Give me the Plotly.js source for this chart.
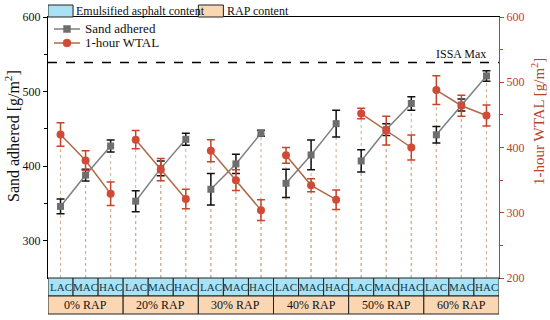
<!DOCTYPE html>
<html>
<head>
<meta charset="utf-8">
<script src="https://cdn.plot.ly/plotly-3.0.1.min.js"></script>
<style>html,body{margin:0;padding:0;background:#fff}#chart{width:550px;height:320px}</style>
</head>
<body>
<div id="chart"></div>
<script>
const contents = ['LAC','MAC','HAC'];
const groups = ['0% RAP','20% RAP','30% RAP','40% RAP','50% RAP','60% RAP'];
const sand    = [346,388,427, 353,397,436, 369,403,444, 377,415,457, 407,449,484, 442,482,521];
const sandErr = [10,8,8, 14,10,8, 21,13,4, 19,20,18, 15,8,9, 11,8,7];
const wtal    = [420,380,329, 412,366,321, 395,350,304, 388,342,320, 452,426,400, 488,464,449];
const wtalErr = [18,15,18, 14,17,15, 17,16,16, 12,10,15, 8,22,19, 22,16,16];
const issaMax = 539;
const seriesNames = ['Sand adhered', '1-hour WTAL'];

const FONT = 'Liberation Serif, Times New Roman, serif';
const RED = '#b5442c';
const GREY_LINE = '#7f7f7f', GREY_MK = '#6e6e6e';
const RED_LINE = '#b06a45', RED_MK = '#d04a38';

function withGaps(arr){
  const out=[];
  arr.forEach((v,i)=>{ if(i>0 && i%3===0) out.push(null); out.push(v); });
  return out;
}
const idx = sand.map((_,i)=>i);
const xs = withGaps(idx);

const traces = [
  {
    x: xs, y: withGaps(sand), name: seriesNames[0], type: 'scatter', mode: 'lines+markers',
    line: {color: GREY_LINE, width: 1.5},
    marker: {symbol: 'square', size: 7, color: GREY_MK},
    error_y: {type: 'data', array: withGaps(sandErr), visible: true, color: '#111', thickness: 1.5, width: 4},
    yaxis: 'y', connectgaps: false, showlegend: false
  },
  {
    x: xs, y: withGaps(wtal), name: seriesNames[1], type: 'scatter', mode: 'lines+markers',
    line: {color: RED_LINE, width: 1.5},
    marker: {symbol: 'circle', size: 8, color: RED_MK},
    error_y: {type: 'data', array: withGaps(wtalErr), visible: true, color: '#c2462a', thickness: 1.5, width: 4},
    yaxis: 'y2', connectgaps: false, showlegend: false
  }
];

const shapes = [];
const annotations = [];
idx.forEach(i=>{
  shapes.push({type:'line', xref:'x', yref:'y', x0:i, x1:i, y0:250, y1:sand[i], line:{color:'#d2ad93', width:1, dash:'dot'}, layer:'below'});
  shapes.push({type:'line', xref:'x', yref:'y2', x0:i, x1:i, y0:200, y1:wtal[i], line:{color:'#d2ad93', width:1, dash:'dot'}, layer:'below'});
});
shapes.push({type:'line', xref:'paper', yref:'y', x0:0, x1:1, y0:issaMax, y1:issaMax, line:{color:'#000', width:1.5, dash:'dash'}});
annotations.push({xref:'x', yref:'y', x:16, y:550, text:'ISSA Max', showarrow:false, font:{family:FONT, size:12, color:'#111'}});

// category boxes
const rowH = 18/261;
idx.forEach(i=>{
  shapes.push({type:'rect', xref:'x', yref:'paper', x0:i-0.5, x1:i+0.5, y0:-rowH, y1:0, fillcolor:'#a9e2f5', line:{color:'#222', width:1}});
  annotations.push({xref:'x', yref:'paper', x:i, y:-rowH/2, yanchor:'middle', text:contents[i%3], showarrow:false, font:{family:FONT, size:11, color:'#0d3b4a'}});
});
groups.forEach((g,k)=>{
  shapes.push({type:'rect', xref:'x', yref:'paper', x0:3*k-0.5, x1:3*k+2.5, y0:-2*rowH, y1:-rowH, fillcolor:'#fbd6b3', line:{color:'#222', width:1}});
  annotations.push({xref:'x', yref:'paper', x:3*k+1, y:-1.5*rowH, yanchor:'middle', text:g, showarrow:false, font:{family:FONT, size:12, color:'#111'}});
});
// top key boxes
const topH = 12/261;
shapes.push({type:'rect', xref:'x', yref:'paper', x0:-0.5, x1:0.5, y0:1, y1:1+topH, fillcolor:'#a9e2f5', line:{color:'#222', width:1}});
annotations.push({xref:'x', yref:'paper', x:0.55, y:1+topH/2, xanchor:'left', yanchor:'middle', text:'Emulsified asphalt content', showarrow:false, font:{family:FONT, size:12, color:'#111'}});
shapes.push({type:'rect', xref:'x', yref:'paper', x0:5.5, x1:6.5, y0:1, y1:1+topH, fillcolor:'#fbd6b3', line:{color:'#222', width:1}});
annotations.push({xref:'x', yref:'paper', x:6.55, y:1+topH/2, xanchor:'left', yanchor:'middle', text:'RAP content', showarrow:false, font:{family:FONT, size:12, color:'#111'}});

// series legend (inside plot, top-left)
const legY = [1-12/261, 1-26/261];
const legX0 = 6/451, legX1 = 32/451, legXm = 19/451, legXt = 35/451;
[[GREY_LINE, GREY_MK, 'rect', 7],[RED_LINE, RED_MK, 'circle', 8]].forEach((s,k)=>{
  shapes.push({type:'line', xref:'paper', yref:'paper', x0:legX0, x1:legX1, y0:legY[k], y1:legY[k], line:{color:s[0], width:1.5}});
  shapes.push({type:s[2], xref:'paper', yref:'paper', xsizemode:'pixel', ysizemode:'pixel', xanchor:legXm, yanchor:legY[k],
    x0:-s[3]/2, x1:s[3]/2, y0:-s[3]/2, y1:s[3]/2, fillcolor:s[1], line:{color:s[1], width:0.5}});
  annotations.push({xref:'paper', yref:'paper', x:legXt, y:legY[k], xanchor:'left', yanchor:'middle', text:seriesNames[k], showarrow:false, font:{family:FONT, size:13, color:'#111'}});
});

// axis titles
annotations.push({xref:'paper', yref:'paper', x:-36/451, y:(278-136)/261, xanchor:'center', yanchor:'middle', textangle:-90,
  text:'Sand adhered [g/m<sup>2</sup>]', showarrow:false, font:{family:FONT, size:16, color:'#111'}});
annotations.push({xref:'paper', yref:'paper', x:1+39/451, y:(278-122)/261, xanchor:'center', yanchor:'middle', textangle:-90,
  text:'1-hour WTAL [g/m<sup>2</sup>]', showarrow:false, font:{family:FONT, size:15, color:RED}});

const layout = {
  width: 550, height: 320,
  margin: {l: 48, r: 51, t: 17, b: 42},
  paper_bgcolor: '#fff', plot_bgcolor: '#fff',
  font: {family: FONT, size: 12, color: '#111'},
  showlegend: false,
  xaxis: {
    range: [-0.5, 17.5], showgrid: false, zeroline: false, showticklabels: false, ticks: '',
    showline: true, linecolor: '#000', linewidth: 1.2, mirror: true, fixedrange: true
  },
  yaxis: {
    range: [250, 600], tickvals: [300,400,500,600], showgrid: false, zeroline: false,
    showline: true, linecolor: '#000', linewidth: 1.2, ticks: 'outside', ticklen: 4, tickcolor: '#000',
    minor: {tickvals: [350,450,550], ticks: 'outside', ticklen: 3, tickcolor: '#000'},
    tickfont: {family: FONT, size: 12, color: '#111'}
  },
  yaxis2: {
    range: [200, 600], tickvals: [200,300,400,500,600], overlaying: 'y', side: 'right', showgrid: false, zeroline: false,
    showline: true, linecolor: RED, linewidth: 1.2, ticks: 'outside', ticklen: 4, tickcolor: RED,
    minor: {tickvals: [250,350,450,550], ticks: 'outside', ticklen: 3, tickcolor: RED},
    tickfont: {family: FONT, size: 12, color: RED}
  },
  shapes: shapes,
  annotations: annotations
};

Plotly.newPlot('chart', traces, layout, {displayModeBar: false, staticPlot: true});
</script>
</body>
</html>
